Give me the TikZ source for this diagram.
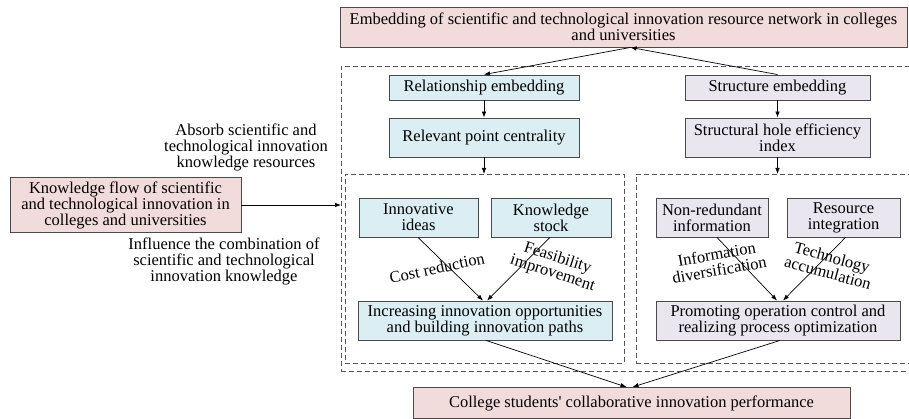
\documentclass[tikz,border=0pt]{standalone}
\usepackage{fontspec}
\setmainfont{Liberation Serif}[Ligatures=TeXOff]
\usetikzlibrary{arrows.meta}
\definecolor{pinkfill}{HTML}{F2DCDB}
\definecolor{bluefill}{HTML}{DBEEF3}
\definecolor{lilacfill}{HTML}{E9E6EF}
\definecolor{edge}{HTML}{4A4A4A}
\definecolor{dashgray}{HTML}{555555}
\begin{document}
\begin{tikzpicture}[x=1pt,y=-1pt,
  font=\fontsize{16.5}{16}\selectfont,
  box/.style={draw=edge,line width=0.9pt,inner sep=0pt,align=center,anchor=center},
  pinkbox/.style={box,fill=pinkfill},
  bluebox/.style={box,fill=bluefill},
  lilacbox/.style={box,fill=lilacfill},
  group/.style={draw=dashgray,dash pattern=on 5pt off 3pt,line width=0.8pt,inner sep=0pt,anchor=north west},
  link/.style={draw=black,line width=0.7pt,-{Latex[length=6pt,width=4.5pt]}},
  lbl/.style={align=center,inner sep=0pt}]
\useasboundingbox (0,0) rectangle (909,419);
\begin{scope}
\clip (0,0) rectangle (909,419);
% dashed groups
\node[group,minimum width=580pt,minimum height=305pt] (outer) at (341,66) {};
\node[group,minimum width=279pt,minimum height=189pt] (leftg) at (345,174) {};
\node[group,minimum width=284pt,minimum height=189pt] (rightg) at (636,174) {};
% main boxes
\node[pinkbox,minimum width=567pt,minimum height=40pt] (top) at (623.5,27)
  {Embedding of scientific and technological innovation resource network in colleges\\and universities};
\node[pinkbox,minimum width=231pt,minimum height=55pt] (kf) at (125.5,205)
  {Knowledge flow of scientific\\and technological innovation in\\colleges and universities};
\node[pinkbox,minimum width=437pt,minimum height=31pt] (bot) at (631.5,403)
  {College students' collaborative innovation performance};
\end{scope}
% left branch
\node[bluebox,minimum width=190pt,minimum height=25pt] (rel) at (484,87.5) {Relationship embedding};
\node[bluebox,minimum width=190pt,minimum height=39pt] (rpc) at (484,137.5) {Relevant point centrality};
\node[bluebox,minimum width=119pt,minimum height=39pt] (ii) at (418.5,217.5) {Innovative\\ideas};
\node[bluebox,minimum width=120pt,minimum height=39pt] (ks) at (551,217.5) {Knowledge\\stock};
\node[bluebox,minimum width=254pt,minimum height=39pt] (inc) at (485,320.5)
  {Increasing innovation opportunities\\and building innovation paths};
% right branch
\node[lilacbox,minimum width=185pt,minimum height=25pt] (str) at (777.5,87.5) {Structure embedding};
\node[lilacbox,minimum width=185pt,minimum height=39pt] (shi) at (777.5,137.5) {Structural hole efficiency\\index};
\node[lilacbox,minimum width=112pt,minimum height=39pt] (nr) at (712,217.5) {Non-redundant\\information};
\node[lilacbox,minimum width=113pt,minimum height=39pt] (ri) at (843.5,217.5) {Resource\\integration};
\node[lilacbox,minimum width=244pt,minimum height=39pt] (pro) at (778,320.5)
  {Promoting operation control and\\realizing process optimization};
% side labels
\node[lbl] (absorb) at (246,147) {Absorb scientific and\\technological innovation\\knowledge resources};
\node[lbl] (influence) at (224,261) {Influence the combination of\\scientific and technological\\innovation knowledge};
% connectors
\coordinate (topjoin) at ([xshift=7pt]top.south);
\draw[link] (topjoin) -- (rel.north);
\draw[link] (str.north) -- (topjoin);
\draw[link] (rel) -- (rpc);
\draw[link] (str) -- (shi);
\draw[link] (rpc.south) -- (rpc.south |- leftg.north);
\draw[link] (shi.south) -- (shi.south |- rightg.north);
\draw[link] (kf.east) -- (kf.east -| outer.west);
\draw[link] ([xshift=-0.5pt]ii.south) -- ([xshift=-2pt]inc.north);
\draw[link] ([xshift=-1pt]ks.south) -- ([xshift=2pt]inc.north);
\draw[link] ([xshift=5pt]nr.south) -- ([xshift=-1pt]pro.north);
\draw[link] ([xshift=2pt]ri.south) -- ([xshift=5pt]pro.north);
\draw[link] ([xshift=1pt]inc.south) -- ([xshift=-5pt]bot.north);
\draw[link] ([xshift=2pt]pro.south) -- ([xshift=1pt]bot.north);
% connector labels
\node[lbl,rotate=12] (costlbl) at (437,268) {Cost reduction};
\node[lbl,rotate=-18] (feaslbl) at (555,266) {Feasibility\\improvement};
\node[lbl,rotate=10] (infolbl) at (718,262) {Information\\diversification};
\node[lbl,rotate=-15] (techlbl) at (830,265) {Technology\\accumulation};
\end{tikzpicture}
\end{document}
